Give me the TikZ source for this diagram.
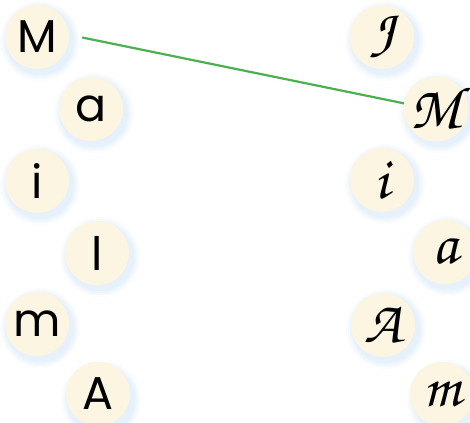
\documentclass[tikz,border=0pt]{standalone}
\usepackage{fontspec}
\setmainfont{Poppins}
\newfontfamily\chorus{TeX Gyre Chorus}
\usetikzlibrary{calc}
\definecolor{cream}{RGB}{251,245,225}
\definecolor{glow}{RGB}{200,225,248}
\definecolor{lgreen}{RGB}{76,175,80}
\tikzset{
  letter/.style={circle, minimum size=64pt, inner sep=0pt, fill=cream},
  sans/.style={font=\fontsize{46}{46}\selectfont},
  curs/.style={font=\fontsize{60}{60}\selectfont\chorus},
  link/.style={draw=lgreen, line width=2.2pt}
}
\newcommand{\glowdisc}[2]{%
  \foreach \r/\o in {40/0.08,38/0.10,36/0.14,34/0.18}{
    \fill[glow, opacity=\o] (#1+3,#2+4) circle (\r pt);
  }%
}
\begin{document}
\begin{tikzpicture}[x=1pt,y=-1pt]
\useasboundingbox (0,0) rectangle (470,422);
\fill[white] (0,0) rectangle (470,422);
\begin{scope}
\clip (0,0) rectangle (470,422);
% glows
\glowdisc{37}{37}
\glowdisc{91}{109}
\glowdisc{37}{181}
\glowdisc{97}{253}
\glowdisc{37}{324}
\glowdisc{98}{396}
\glowdisc{382}{37}
\glowdisc{436}{109}
\glowdisc{382}{180}
\glowdisc{445}{252}
\glowdisc{383}{325}
\glowdisc{444}{396}
% left column
\node[letter, sans] (L1) at (37,37) {M};
\node[letter, sans] (L2) at (91,109) {a};
\node[letter, sans] (L3) at (37,181) {i};
\node[letter, sans] (L4) at (97,253) {l};
\node[letter, sans] (L5) at (37,324) {m};
\node[letter, sans] (L6) at (98,394) {A};
% right column
\node[letter, curs] (R1) at (382,37) {J};
\node[letter, curs] (R2) at (436,109) {M};
\node[letter, curs] (R3) at (382,180) {i};
\node[letter, curs] (R4) at (445,252) {a};
\node[letter, curs] (R5) at (383,325) {A};
\node[letter, curs] (R6) at (442,394) {m};
\draw[link] ($(L1.east)+(13,0.5)$) -- (R2.170);
\end{scope}
\end{tikzpicture}
\end{document}
